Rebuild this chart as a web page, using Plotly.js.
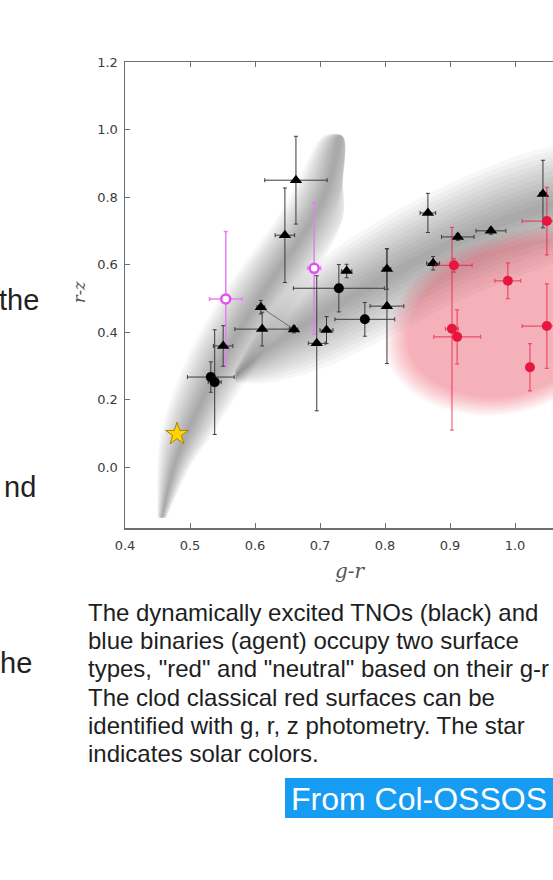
<!DOCTYPE html>
<html><head><meta charset="utf-8">
<script src="https://cdn.plot.ly/plotly-3.0.1.min.js"></script>
<style>html,body{margin:0;padding:0;background:#fff;overflow:hidden}#chart{width:553px;height:880px}</style>
</head><body><div id="chart"></div>
<script>
// ---- Data ----
// Dynamically excited TNOs (black triangles)
const triX    = [0.663, 0.646, 0.866, 0.912, 0.963, 1.043, 0.874, 0.803, 0.803, 0.741, 0.710, 0.695, 0.660, 0.609, 0.611, 0.551];
const triY    = [0.850, 0.687, 0.753, 0.682, 0.700, 0.809, 0.604, 0.587, 0.477, 0.581, 0.406, 0.367, 0.408, 0.474, 0.409, 0.359];
const triXErr = [0.048, 0.015, 0.012, 0.025, 0.023, 0.005, 0.010, 0.006, 0.026, 0.008, 0.010, 0.013, 0.006, 0.006, 0.042, 0.015];
const triYErr = [0.130, 0.140, 0.058, 0.010, 0.010, 0.100, 0.020, 0.060, 0.170, 0.020, 0.040, 0.200, 0.010, 0.020, 0.050, 0.060];
// pair joined by a thin line (indices into the triangle arrays)
const pairIdx = [13, 12];
// black circles
const circX    = [0.729, 0.769, 0.532, 0.538];
const circY    = [0.530, 0.438, 0.267, 0.252];
const circXErr = [0.070, 0.046, 0.036, 0.010];
const circYErr = [0.070, 0.050, 0.045, 0.155];
// blue binaries (magenta open circles)
const magX    = [0.555, 0.691];
const magY    = [0.498, 0.589];
const magXErr = [0.025, 0.010];
const magYErr = [0.200, 0.195];
// cold classical (red)
const redX    = [0.906, 0.903, 0.911, 0.989, 1.049, 1.049, 1.023];
const redY    = [0.598, 0.410, 0.386, 0.552, 0.729, 0.418, 0.296];
const redXErr = [0.028, 0.010, 0.036, 0.020, 0.038, 0.038, 0.005];
const redYErr = [0.020, 0.300, 0.080, 0.053, 0.100, 0.125, 0.070];
// solar colours
const starX = [0.480];
const starY = [0.098];
// shaded regions (outlines in data units)
const band1Y  = [-0.15, 0.00, 0.10, 0.30, 0.465, 0.60, 0.74, 0.85, 0.98];
const band1X  = [0.457, 0.475, 0.495, 0.545, 0.595, 0.642, 0.690, 0.715, 0.730];
const band1HW = [0.007, 0.025, 0.040, 0.055, 0.060, 0.060, 0.055, 0.048, 0.025];
const band2X  = [0.570, 0.620, 0.700, 0.800, 0.900, 1.000, 1.100, 1.200];
const band2Y  = [0.270, 0.350, 0.450, 0.560, 0.660, 0.740, 0.800, 0.850];
const band2HW = [0.020, 0.100, 0.160, 0.180, 0.180, 0.180, 0.170, 0.160];
const pinkX = [0.80, 0.82, 0.86, 0.92, 1.00, 1.08, 1.15, 1.18, 1.15, 1.08, 1.00, 0.92, 0.85, 0.81];
const pinkY = [0.38, 0.49, 0.58, 0.65, 0.70, 0.72, 0.68, 0.55, 0.35, 0.22, 0.16, 0.16, 0.21, 0.29];
const pinkCenter = [0.99, 0.45];
// tick labels / texts
const xTicks = [0.4, 0.5, 0.6, 0.7, 0.8, 0.9, 1.0];
const yTicks = [0.0, 0.2, 0.4, 0.6, 0.8, 1.0, 1.2];
const xTitle = 'g-r';
const yTitle = 'r-z';
const captionLines = [
  'The dynamically excited TNOs (black) and',
  'blue binaries (agent) occupy two surface',
  'types, "red" and "neutral" based on their g-r',
  'The clod classical red surfaces can be',
  'identified with g, r, z photometry. The star',
  'indicates solar colors.'
];
const sideWords = ['the', 'nd', 'he'];
const sourceLabel = 'From Col-OSSOS';

// ---- Layout geometry (pixels) ----
const W = 553, H = 880, ML = 125, MT = 62, MB = 352, MR = 0;
const PW = W - ML - MR, PH = H - MT - MB;
const px2paperX = p => (p - ML) / PW;
const px2paperY = p => (H - MB - p) / PH;

const traces = [];
const NL = 12;
const grayFill = 'rgba(0,0,0,0.032)';
// band 1 (parametrised along y)
for (let k = NL; k >= 1; k--) {
  const f = k / NL, xs = [], ys = [];
  for (let i = 0; i < band1Y.length; i++) { xs.push(band1X[i] - band1HW[i] * f); ys.push(band1Y[i]); }
  for (let i = band1Y.length - 1; i >= 0; i--) { xs.push(Math.min(band1X[i] + band1HW[i] * f, 0.735)); ys.push(band1Y[i]); }
  traces.push({type:'scatter', mode:'lines', x:xs, y:ys, fill:'toself', fillcolor:grayFill,
    line:{width:0, shape:'spline'}, hoverinfo:'skip', showlegend:false});
}
// band 2 (parametrised along x)
for (let k = NL; k >= 1; k--) {
  const f = k / NL, xs = [], ys = [];
  for (let i = 0; i < band2X.length; i++) { xs.push(band2X[i]); ys.push(band2Y[i] - band2HW[i] * f); }
  for (let i = band2X.length - 1; i >= 0; i--) { xs.push(band2X[i]); ys.push(band2Y[i] + band2HW[i] * f); }
  traces.push({type:'scatter', mode:'lines', x:xs, y:ys, fill:'toself', fillcolor:grayFill,
    line:{width:0, shape:'spline'}, hoverinfo:'skip', showlegend:false});
}
// pink region
const pinkScales = [1.0, 0.98, 0.96, 0.94, 0.92, 0.90, 0.88, 0.86, 0.84, 0.82];
pinkScales.forEach(s => {
  const xs = pinkX.map(v => pinkCenter[0] + (v - pinkCenter[0]) * s);
  const ys = pinkY.map(v => pinkCenter[1] + (v - pinkCenter[1]) * s);
  xs.push(xs[0]); ys.push(ys[0]);
  traces.push({type:'scatter', mode:'lines', x:xs, y:ys, fill:'toself', fillcolor:'rgba(225,40,80,0.042)',
    line:{width:0, shape:'spline'}, hoverinfo:'skip', showlegend:false});
});
// connecting line
traces.push({type:'scatter', mode:'lines', x:pairIdx.map(i => triX[i]), y:pairIdx.map(i => triY[i]),
  line:{color:'#555', width:0.8}, hoverinfo:'skip', showlegend:false});
// magenta binaries
traces.push({type:'scatter', mode:'markers', x:magX, y:magY, name:'blue binaries',
  marker:{symbol:'circle', size:9, color:'#ffffff', line:{color:'#e052f0', width:2.5}},
  error_x:{type:'data', array:magXErr, color:'#e680f2', thickness:1.5, width:2},
  error_y:{type:'data', array:magYErr, color:'#e680f2', thickness:1.5, width:2}, showlegend:false});
// black circles
traces.push({type:'scatter', mode:'markers', x:circX, y:circY, name:'TNOs (circles)',
  marker:{symbol:'circle', size:10, color:'#000'},
  error_x:{type:'data', array:circXErr, color:'#3a3a3a', thickness:1, width:2},
  error_y:{type:'data', array:circYErr, color:'#3a3a3a', thickness:1, width:2}, showlegend:false});
// black triangles
traces.push({type:'scatter', mode:'markers', x:triX, y:triY, name:'dynamically excited TNOs',
  marker:{symbol:'triangle-up', size:11, color:'#000'},
  error_x:{type:'data', array:triXErr, color:'#3a3a3a', thickness:1, width:2},
  error_y:{type:'data', array:triYErr, color:'#3a3a3a', thickness:1, width:2}, showlegend:false});
// red cold classicals
traces.push({type:'scatter', mode:'markers', x:redX, y:redY, name:'cold classicals',
  marker:{symbol:'circle', size:10, color:'#e8163f'},
  error_x:{type:'data', array:redXErr, color:'rgba(232,22,63,0.65)', thickness:1.2, width:2},
  error_y:{type:'data', array:redYErr, color:'rgba(232,22,63,0.65)', thickness:1.2, width:2}, showlegend:false});
// sun
traces.push({type:'scatter', mode:'markers', x:starX, y:starY, name:'Sun',
  marker:{symbol:'star', size:17, color:'#ffd400', line:{color:'#a88600', width:1}}, showlegend:false});

const tickFont = {family:'DejaVu Sans', size:13, color:'#3c3c3c'};
const annotations = [];
annotations.push({xref:'paper', yref:'paper', x:px2paperX(350), y:px2paperY(571), text:xTitle, showarrow:false,
  xanchor:'center', yanchor:'middle', font:{family:'DejaVu Serif', size:20, color:'#555', style:'italic'}});
annotations.push({xref:'paper', yref:'paper', x:px2paperX(79), y:px2paperY(292), text:yTitle, showarrow:false, textangle:-90,
  xanchor:'center', yanchor:'middle', font:{family:'DejaVu Serif', size:16, color:'#555', style:'italic'}});
const capY = [612, 640, 668, 697, 725, 753];
captionLines.forEach((t, i) => annotations.push({xref:'paper', yref:'paper', x:px2paperX(86), y:px2paperY(capY[i]), text:t,
  showarrow:false, xanchor:'left', yanchor:'middle', font:{family:'Liberation Sans', size:24, color:'#1e1e1e'}}));
const sideR = [41, 38, 34], sideY = [300, 487, 663];
sideWords.forEach((t, i) => annotations.push({xref:'paper', yref:'paper', x:px2paperX(sideR[i]), y:px2paperY(sideY[i]), text:t,
  showarrow:false, xanchor:'right', yanchor:'middle', font:{family:'Liberation Sans', size:29, color:'#222'}}));
annotations.push({xref:'paper', yref:'paper', x:px2paperX(289), y:px2paperY(799), text:sourceLabel, showarrow:false,
  xanchor:'left', yanchor:'middle', font:{family:'Liberation Sans', size:32, color:'#ffffff'}});

const layout = {
  width:W, height:H, margin:{l:ML, r:MR, t:MT, b:MB, pad:0},
  paper_bgcolor:'#fff', plot_bgcolor:'#fff', showlegend:false,
  xaxis:{range:[0.4, 0.4 + PW/650], showgrid:false, zeroline:false, showline:true, linecolor:'#6e6e6e', linewidth:1.5,
    mirror:'ticks', ticks:'inside', ticklen:5, tickwidth:1, tickcolor:'#6e6e6e',
    tickvals:xTicks, ticktext:xTicks.map(v => v.toFixed(1)), tickfont:tickFont, ticklabelstandoff:5},
  yaxis:{range:[-0.18, 1.2], showgrid:false, zeroline:false, showline:true, linecolor:'#6e6e6e', linewidth:1.5,
    mirror:false, ticks:'inside', ticklen:5, tickwidth:1, tickcolor:'#6e6e6e',
    tickvals:yTicks, ticktext:yTicks.map(v => v.toFixed(1)), tickfont:tickFont, ticklabelstandoff:3},
  shapes:[{type:'rect', xref:'paper', yref:'paper', x0:px2paperX(285), x1:px2paperX(620), y0:px2paperY(818), y1:px2paperY(778),
    fillcolor:'#179cf4', line:{width:0}, layer:'below'}],
  annotations:annotations
};
Plotly.newPlot('chart', traces, layout, {displayModeBar:false, staticPlot:true});
</script></body></html>
